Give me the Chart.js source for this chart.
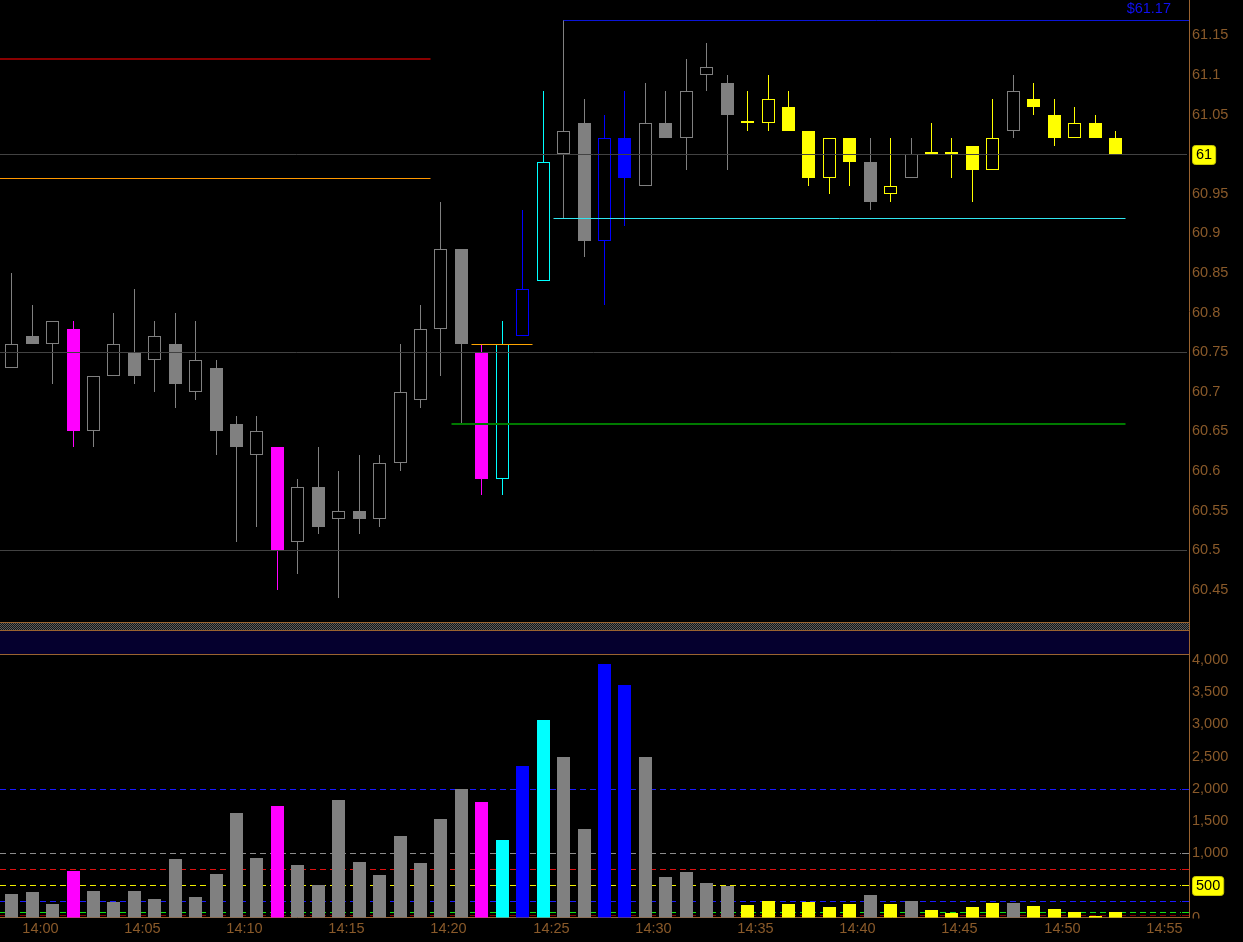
<!DOCTYPE html>
<html><head><meta charset="utf-8">
<script src="https://cdn.jsdelivr.net/npm/chart.js@4.4.1/dist/chart.umd.min.js"></script>
<style>
html,body{margin:0;padding:0;background:#000;width:1243px;height:942px;overflow:hidden;}
canvas{position:absolute;left:0;z-index:1;}
#price{top:0;}
#vol{top:631px;}
.hl{position:absolute;left:0;width:1190px;height:1px;background:#9a6330;z-index:2;}
#checker{position:absolute;left:0;top:623px;width:1189px;height:7px;z-index:2;background:repeating-conic-gradient(#5c5c5c 0 25%, #141414 0 50%) 0 0/2px 2px;}
#band{position:absolute;left:0;top:631px;width:1189px;height:23px;background:#05002e;z-index:2;}
#vline{position:absolute;left:1189px;top:622px;width:1px;height:33px;background:#9a6330;z-index:2;}
</style></head>
<body>
<canvas id="price" width="1243" height="622"></canvas>
<canvas id="vol" width="1243" height="311"></canvas>
<div id="checker"></div>
<div class="hl" style="top:622px"></div>
<div class="hl" style="top:630px"></div>
<div id="band"></div>
<div class="hl" style="top:654px"></div>
<div id="vline"></div>
<script>
// ---------------- DATA ----------------
const candleTimes = ['13:59','14:00','14:01','14:02','14:03','14:04','14:05','14:06','14:07','14:08',
 '14:09','14:10','14:11','14:12','14:13','14:14','14:15','14:16','14:17','14:18',
 '14:19','14:20','14:21','14:22','14:23','14:24','14:25','14:26','14:27','14:28',
 '14:29','14:30','14:31','14:32','14:33','14:34','14:35','14:36','14:37','14:38',
 '14:39','14:40','14:41','14:42','14:43','14:44','14:45','14:46','14:47','14:48',
 '14:49','14:50','14:51','14:52','14:53'];
const opens = [60.73,60.77,60.76,60.78,60.65,60.72,60.75,60.74,60.76,60.70,
 60.73,60.66,60.62,60.63,60.51,60.58,60.54,60.55,60.54,60.61,
 60.69,60.78,60.88,60.75,60.59,60.77,60.84,61.00,61.04,60.89,
 61.02,60.96,61.04,61.02,61.10,61.09,61.04,61.04,61.06,61.03,
 60.97,61.02,60.99,60.95,60.97,61.00,61.00,61.01,60.98,61.03,
 61.07,61.05,61.02,61.04,61.02];
const highs = [60.85,60.81,60.79,60.79,60.72,60.80,60.83,60.79,60.80,60.79,
 60.74,60.67,60.67,60.63,60.59,60.63,60.60,60.62,60.62,60.76,
 60.81,60.94,60.88,60.76,60.79,60.93,61.08,61.17,61.07,61.05,
 61.08,61.09,61.08,61.12,61.14,61.10,61.08,61.10,61.08,61.03,
 61.02,61.02,61.02,61.02,61.02,61.04,61.02,61.01,61.07,61.10,
 61.09,61.07,61.06,61.05,61.03];
const lows = [60.73,60.76,60.71,60.63,60.63,60.72,60.71,60.70,60.68,60.69,
 60.62,60.51,60.53,60.45,60.47,60.52,60.44,60.52,60.53,60.60,
 60.68,60.72,60.66,60.57,60.57,60.77,60.84,60.92,60.87,60.81,
 60.91,60.96,61.02,60.98,61.08,60.98,61.03,61.03,61.03,60.96,
 60.95,60.96,60.93,60.94,60.97,61.00,60.97,60.94,60.98,61.02,
 61.05,61.01,61.02,61.02,61.00];
const closes = [60.76,60.76,60.79,60.65,60.72,60.76,60.72,60.77,60.71,60.74,
 60.65,60.63,60.65,60.50,60.58,60.53,60.55,60.54,60.61,60.70,
 60.78,60.88,60.76,60.59,60.76,60.83,60.99,61.03,60.89,61.02,
 60.97,61.04,61.02,61.08,61.11,61.05,61.04,61.07,61.03,60.97,
 61.02,60.99,60.94,60.96,61.00,61.00,61.00,60.98,61.02,61.08,
 61.06,61.02,61.04,61.02,61.00];
const candleColor = ['gray','gray','gray','magenta','gray','gray','gray','gray','gray','gray',
 'gray','gray','gray','magenta','gray','gray','gray','gray','gray','gray',
 'gray','gray','gray','magenta','cyan','blue','cyan','gray','gray','blue',
 'blue','gray','gray','gray','gray','gray','yellow','yellow','yellow','yellow',
 'yellow','yellow','gray','yellow','gray','yellow','yellow','yellow','yellow','gray',
 'yellow','yellow','yellow','yellow','yellow'];
const volumes = [365,396,210,722,412,241,412,287,909,318,
 676,1623,924,1732,816,505,1825,862,660,1266,
 847,1530,1996,1794,1204,2353,3068,2493,1375,3941,
 3607,2493,629,707,536,489,194,256,210,241,
 163,210,350,210,256,117,70,163,225,225,
 179,132,85,28,85];
const timeLabels = ['14:00','14:05','14:10','14:15','14:20','14:25','14:30','14:35','14:40','14:45','14:50','14:55'];
const priceTicks = [61.2,61.15,61.1,61.05,61,60.95,60.9,60.85,60.8,60.75,60.7,60.65,60.6,60.55,60.5,60.45];
const volumeTicks = [4000,3500,3000,2500,2000,1500,1000,500,0];
const gridPrices = [61, 60.75, 60.5];
// horizontal price levels: value, from/to (minutes after 14:00, null = edge), colour, width
const levelPrices = [61.17, 61.12, 60.97, 60.92, 60.76, 60.66];
const levelFrom   = [26, null, null, 25.5, 21.5, 20.5];
const levelTo     = [null, 19.5, 19.5, 53.5, 24.5, 53.5];
const levelColors = ['#0a14d8', '#8a0000', '#ff9900', '#30e6f0', '#ffa500', '#007a00'];
const levelWidths = [1, 2, 1, 1, 1, 2];
const lastPrice = 61;
const highLabel = '$61.17';
const volLevels = [2000, 1000, 750, 500, 250, 80, 35];
const volLevelColors = ['#1a1aff', '#8c8c8c', '#e01010', '#f0f000', '#1a1aff', '#10e010', '#8a0000'];
const volTag = 500;

// ---------------- SETUP ----------------
const palette = {gray:'#808080', magenta:'#ff00ff', cyan:'#00ffff', blue:'#0000ff', yellow:'#ffff00'};
const FONT = "'Liberation Sans', Arial, sans-serif";
const FS = 14.5;
const TXT = '#8a5a2a', LINE = '#9a6330';
const minute = t => { const [h, m] = t.split(':').map(Number); return h * 60 + m - 14 * 60; };
const xs = candleTimes.map(minute);
const colors = candleColor.map(k => palette[k]);
const hollow = xs.map((_, i) => closes[i] > opens[i]);
const XMIN = -1.572, XMAX = 56.595;

// linear scales that snap to the pixel grid so 1px candle outlines stay crisp
class SnapX extends Chart.LinearScale {
  getPixelForValue(v) { return Math.floor(super.getPixelForValue(v)) + 0.5; }
}
SnapX.id = 'snapx'; SnapX.defaults = Chart.LinearScale.defaults;
class SnapY extends Chart.LinearScale {
  getPixelForValue(v) { return Math.round(super.getPixelForValue(v)); }
}
SnapY.id = 'snapy'; SnapY.defaults = Chart.LinearScale.defaults;
Chart.register(SnapX, SnapY);

function tag(ctx, text, x, y) {
  ctx.save();
  ctx.font = FS + 'px ' + FONT;
  const w = ctx.measureText(text).width + 7, h = 19;
  ctx.beginPath();
  ctx.roundRect(x + 0.5, Math.round(y - h / 2) + 0.5, w, h, 3);
  ctx.fillStyle = '#ffff00'; ctx.fill();
  ctx.strokeStyle = '#c8c800'; ctx.lineWidth = 1; ctx.stroke();
  ctx.fillStyle = '#000'; ctx.textBaseline = 'middle'; ctx.textAlign = 'left';
  ctx.fillText(text, x + 4, y + 1);
  ctx.restore();
}

const priceOverlay = {
  id: 'priceOverlay',
  afterDatasetsDraw(chart) {
    const {ctx, chartArea: a, scales: {x, y}} = chart;
    ctx.save();
    ctx.beginPath(); ctx.rect(a.left, a.top, a.right - a.left, a.bottom - a.top); ctx.clip();
    ctx.strokeStyle = '#424242'; ctx.lineWidth = 1;
    gridPrices.forEach(p => {
      const py = y.getPixelForValue(p) + 0.5;
      ctx.beginPath(); ctx.moveTo(a.left, py); ctx.lineTo(a.right - 2, py); ctx.stroke();
    });
    levelPrices.forEach((p, i) => {
      const lw = levelWidths[i];
      let py = y.getPixelForValue(p);
      py = lw % 2 ? py + 0.5 : py;
      const x0 = levelFrom[i] === null ? a.left : x.getPixelForValue(levelFrom[i]);
      const x1 = levelTo[i] === null ? a.right : x.getPixelForValue(levelTo[i]);
      ctx.strokeStyle = levelColors[i]; ctx.lineWidth = lw;
      ctx.beginPath(); ctx.moveTo(x0, py); ctx.lineTo(x1, py); ctx.stroke();
    });
    ctx.font = FS + 'px ' + FONT; ctx.fillStyle = '#1010f0';
    ctx.textAlign = 'right'; ctx.textBaseline = 'bottom';
    ctx.fillText(highLabel, a.right - 18, y.getPixelForValue(levelPrices[0]) - 4);
    ctx.restore();
  },
  afterDraw(chart) {
    const {ctx, chartArea: a, scales: {y}} = chart;
    tag(ctx, String(lastPrice), a.right + 3, y.getPixelForValue(lastPrice));
  }
};

const volOverlay = {
  id: 'volOverlay',
  beforeDatasetsDraw(chart) {
    const {ctx, chartArea: a, scales: {y}} = chart;
    ctx.save();
    ctx.lineWidth = 1;
    volLevels.forEach((v, i) => {
      const py = y.getPixelForValue(v) + 0.5;
      ctx.strokeStyle = volLevelColors[i];
      ctx.setLineDash([6, 4]);
      ctx.beginPath(); ctx.moveTo(a.left, py); ctx.lineTo(a.right - 8, py); ctx.stroke();
      ctx.setLineDash([]);
      ctx.beginPath(); ctx.moveTo(a.right - 7, py); ctx.lineTo(a.right, py); ctx.stroke();
    });
    ctx.restore();
  },
  afterDraw(chart) {
    const {ctx, chartArea: a, scales: {y}} = chart;
    ctx.save();
    ctx.fillStyle = '#000';
    ctx.fillRect(a.right + 1, a.bottom + 1, chart.width - a.right, chart.height - a.bottom);
    ctx.restore();
    tag(ctx, String(volTag), a.right + 3, y.getPixelForValue(volTag));
  }
};

Chart.defaults.font.family = FONT;
Chart.defaults.font.size = FS;
Chart.defaults.color = TXT;

const noPad = s => { s.paddingTop = 0; s.paddingBottom = 0; s.paddingLeft = 0; s.paddingRight = 0; };
const noGrid = {display: false, drawTicks: false, tickLength: 0, offset: false};

const xScale = (show) => ({
  type: 'snapx', min: XMIN, max: XMAX, display: show, offset: false,
  grid: noGrid,
  border: {display: show, color: LINE},
  afterBuildTicks: s => { s.ticks = timeLabels.map(t => ({value: minute(t)})); },
  afterFit: s => { s.height = show ? 24.5 : 0; noPad(s); },
  ticks: {
    autoSkip: false, maxRotation: 0, minRotation: 0, padding: 3, labelOffset: 8,
    color: TXT, font: {size: FS, family: FONT},
    callback: (v, i) => timeLabels[i]
  }
});

const yScale = (min, max, tickVals, fmt) => ({
  type: 'snapy', position: 'right', min, max,
  grid: noGrid,
  border: {display: true, color: LINE},
  afterBuildTicks: s => { s.ticks = tickVals.slice().reverse().map(v => ({value: v})); },
  afterFit: s => { s.width = 54; noPad(s); },
  ticks: {padding: 3, color: TXT, font: {size: FS, family: FONT}, autoSkip: false, callback: fmt}
});

new Chart(document.getElementById('price'), {
  type: 'bar',
  data: {
    datasets: [
      {
        order: 0, grouped: false,
        data: xs.map((x, i) => ({x, y: [Math.min(opens[i], closes[i]), Math.max(opens[i], closes[i])]})),
        backgroundColor: colors.map((c, i) => hollow[i] ? '#000' : c),
        borderColor: colors, borderWidth: 1, borderSkipped: false, inflateAmount: 0,
        barThickness: 13, minBarLength: 2
      },
      {
        order: 1, grouped: false,
        data: xs.map((x, i) => ({x, y: [lows[i], highs[i]]})),
        backgroundColor: colors, borderWidth: 0, inflateAmount: 0, barThickness: 1, minBarLength: 0
      }
    ]
  },
  options: {
    responsive: false, animation: false, devicePixelRatio: 1,
    layout: {padding: 0},
    plugins: {legend: {display: false}, tooltip: {enabled: false}},
    scales: {
      x: xScale(false),
      y: yScale(60.40947, 61.19482, priceTicks,
        v => (Math.abs(v - lastPrice) < 1e-9 ? '' : String(Number(v.toFixed(2)))))
    }
  },
  plugins: [priceOverlay]
});

new Chart(document.getElementById('vol'), {
  type: 'bar',
  data: {
    datasets: [{
      grouped: false,
      data: xs.map((x, i) => ({x, y: volumes[i]})),
      backgroundColor: colors, borderWidth: 0, inflateAmount: 0, barThickness: 13
    }]
  },
  options: {
    responsive: false, animation: false, devicePixelRatio: 1,
    layout: {padding: {top: 24, left: 0, right: 0, bottom: 0}},
    plugins: {legend: {display: false}, tooltip: {enabled: false}},
    scales: {
      x: xScale(true),
      y: yScale(0, 4077.7, volumeTicks, v => (v === volTag ? '' : v.toLocaleString('en-US')))
    }
  },
  plugins: [volOverlay]
});
</script>
</body></html>
